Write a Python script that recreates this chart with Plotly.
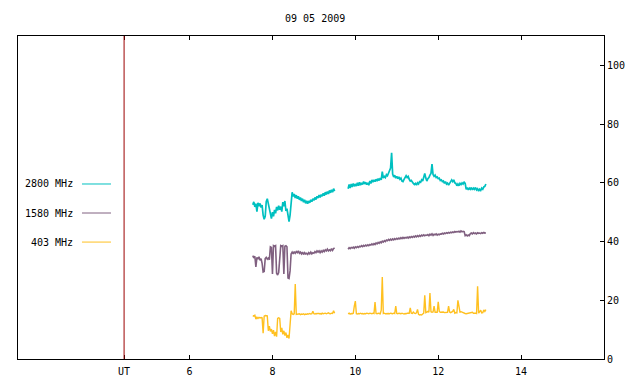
import plotly.graph_objects as go

# ---------------- data ----------------
title_text = "09 05 2009"
ut_marker = 4.42
x_tick_vals = [ut_marker, 6, 8, 10, 12, 14]
x_tick_text = ["UT", "6", "8", "10", "12", "14"]
y_tick_vals = [0, 20, 40, 60, 80, 100]

series_names = ["2800 MHz", "1580 MHz", "403 MHz"]
series_colors = ["#00c0c0", "#806080", "#ffc020"]
series_widths = [1.7, 1.6, 1.4]

step_h = 0.025
seg1_start = 7.525
seg2_start = 9.825

f2800_seg1 = [52.5, 53.5, 51.8, 52.9, 50.2, 53.2, 52.0, 53.0, 51.6, 52.4,
              49.0, 47.6, 48.6, 53.6, 54.6, 53.0, 52.0, 49.2, 47.8, 50.0,
              48.6, 50.8, 49.6, 51.8, 50.6, 52.2, 50.8, 51.9, 50.2, 53.4,
              52.0, 53.8, 50.4, 51.2, 48.6, 46.8, 49.0, 54.2, 56.8, 55.4,
              56.2, 54.8, 55.8, 54.6, 55.4, 54.2, 55.0, 53.8, 54.6, 53.4,
              54.2, 53.0, 53.9, 52.9, 53.8, 53.2, 54.2, 53.6, 54.6, 54.0,
              55.0, 54.3, 55.4, 54.8, 55.8, 55.0, 56.0, 55.4, 56.4, 55.6,
              56.8, 56.0, 57.0, 56.2, 57.4, 56.6, 57.6, 56.8, 58.0, 57.2]
f2800_seg2 = [58.0, 59.4, 58.2, 59.6, 58.6, 59.8, 58.8, 59.6, 58.9, 60.0,
              59.0, 60.2, 59.2, 60.0, 59.4, 60.4, 59.6, 60.2, 59.4, 60.0,
              59.2, 60.6, 59.8, 61.0, 60.2, 61.0, 60.4, 61.2, 60.6, 61.4,
              60.8, 61.6, 61.0, 63.8, 61.6, 62.2, 61.8, 62.8, 62.4, 63.4,
              64.2, 65.0, 70.2, 63.0, 62.0, 62.6, 61.6, 62.2, 61.4, 62.0,
              61.2, 61.6, 60.6, 60.4, 61.2, 61.8, 62.4, 61.8, 62.2, 61.2,
              60.6, 60.8, 60.0, 59.8, 59.4, 59.8, 59.2, 60.0, 59.6, 60.4,
              60.2, 61.0, 60.6, 61.6, 63.2, 61.6, 60.6, 61.4, 61.8, 62.6,
              63.2, 66.4, 62.8, 62.2, 62.6, 61.8, 62.0, 61.4, 61.6, 60.8,
              61.0, 60.4, 60.6, 59.8, 60.4, 59.6, 59.9, 59.2, 59.8, 60.4,
              61.0, 60.4, 61.0, 60.0, 59.8, 59.0, 59.6, 59.0, 59.8, 59.4,
              60.0, 59.6, 60.2, 59.8, 57.8, 58.4, 57.6, 58.2, 57.8, 58.4,
              57.6, 58.2, 57.8, 58.4, 57.6, 58.0, 57.2, 57.8, 57.4, 58.2,
              57.8, 58.6, 58.8, 59.6]

f1580_seg1 = [35.2, 34.4, 35.0, 31.4, 34.6, 34.0, 34.8, 33.6, 34.2, 32.6,
              29.6, 29.8, 34.2, 34.6, 34.0, 34.4, 33.8, 38.2, 38.0, 29.0,
              38.6, 38.4, 38.6, 29.2, 28.6, 29.4, 34.0, 38.6, 38.4, 38.6,
              29.0, 38.4, 38.6, 38.2, 27.6, 27.4, 30.0, 35.8, 36.4, 35.8,
              36.6, 36.0, 36.6, 36.2, 36.8, 36.0, 36.4, 35.8, 36.4, 35.6,
              36.2, 35.8, 36.0, 35.6, 36.2, 35.8, 36.4, 35.8, 36.2, 36.0,
              36.6, 36.2, 36.8, 36.4, 36.8, 36.2, 36.8, 36.4, 37.0, 36.6,
              37.2, 36.8, 37.4, 36.8, 37.2, 36.9, 37.6, 37.0, 37.6, 37.8]
f1580_seg2 = [37.4, 37.9, 37.6, 38.0, 37.8, 38.1, 37.7, 38.2, 37.9, 38.3, 38.0, 38.4,
              38.2, 38.6, 38.3, 38.7, 38.4, 38.8, 38.5, 38.9, 38.6, 39.0, 38.8, 39.2, 38.9,
              39.3, 39.0, 39.5, 39.2, 39.7, 39.4, 39.9, 39.6, 40.1, 39.8, 40.3, 40.0, 40.5, 40.3,
              40.7, 40.4, 40.8, 40.5, 40.9, 40.6, 41.0, 40.7, 41.1, 40.8, 41.2, 40.9, 41.3, 41.0,
              41.4, 41.1, 41.4, 41.2,
              41.5, 41.2, 41.6, 41.3, 41.7, 41.4, 41.8, 41.5, 41.9, 41.6, 42.0, 41.7, 42.1, 41.8,
              42.2, 41.9, 42.3, 42.0, 42.2,
              42.1, 42.4, 42.0, 42.5, 42.2, 42.6, 42.1, 42.5, 42.3, 42.6, 42.2, 42.5, 42.3, 42.6,
              42.5, 42.8, 42.6, 42.9, 42.7, 43.0, 42.8, 43.1, 42.9, 43.2, 43.0, 43.3, 43.1, 43.4,
              43.2, 43.4,
              43.3, 43.5, 43.2, 43.6, 43.3, 43.5, 43.4,
              42.0, 42.3, 41.9, 42.2, 42.0,
              42.7, 42.9, 42.6, 43.0, 42.7, 42.9, 42.6, 43.0, 42.8, 42.9, 42.7, 43.0, 42.8, 43.1,
              42.9, 43.0]

f403_seg1 = [14.8, 14.6, 14.9, 13.6, 14.2, 13.8, 14.2, 14.0, 14.1, 14.0,
             8.8, 14.6, 14.8, 14.8, 14.7, 9.6, 11.2, 9.4, 10.2, 8.6,
             9.8, 7.8, 9.2, 7.6, 13.8, 14.0, 13.8, 9.2, 10.6, 8.4,
             9.6, 8.0, 9.0, 7.2, 8.2, 7.0, 12.0, 16.4, 15.4, 15.2,
             15.4, 25.5, 15.2, 15.3,
             15.2, 15.4, 15.1, 15.3, 15.2, 15.4, 15.1, 15.3, 15.2, 15.4,
             15.3, 15.5, 15.3, 15.4, 16.3, 15.4, 15.3, 15.5, 15.4, 15.6,
             15.4, 15.5, 15.3, 15.6, 15.4, 15.5, 15.6, 15.4, 15.5, 15.7,
             15.5, 15.4, 15.6, 15.5, 16.4, 15.6]
f403_seg2 = [15.4, 15.6, 15.3, 15.5, 15.4, 15.6, 18.0, 19.7,
             15.4, 15.3, 15.5, 15.4, 15.6, 15.4, 15.5, 15.3, 15.5, 15.4, 15.6, 15.5,
             15.4, 15.6, 15.5, 15.4, 15.6, 15.5, 19.4,
             15.5, 15.4, 15.6, 15.5, 15.4, 16.6, 27.9,
             15.5, 15.6, 15.4, 15.5, 15.6, 15.5, 15.4, 15.6, 15.5, 15.4, 15.6, 15.5, 18.0,
             15.5, 15.4, 15.6, 15.5, 15.4, 15.6, 15.5, 15.3, 15.5, 15.4, 15.6, 15.5, 15.6,
             17.4, 15.6, 15.5, 16.0, 15.6, 15.5, 15.7, 16.9,
             15.2, 15.0, 15.1, 15.0, 15.3, 15.6, 21.7,
             15.8, 16.0, 16.2, 15.9, 22.5, 16.1, 15.9, 16.0, 18.0,
             15.9, 16.0, 15.9, 19.5,
             16.2, 15.9, 16.0, 15.9, 16.0, 15.8, 15.9, 16.0, 15.9, 18.0,
             16.0, 15.8, 15.9, 16.2, 16.9, 15.6, 15.8, 15.7, 20.0, 17.1,
             16.0, 16.1, 15.9, 15.8, 15.6, 15.5, 15.4, 15.5, 15.6, 15.7, 15.9, 15.8,
             15.9, 15.6, 15.7, 15.6, 15.5, 24.8,
             15.6, 16.0, 16.6, 15.7, 15.8, 16.7, 16.2, 16.8]

series_values = [(f2800_seg1, f2800_seg2), (f1580_seg1, f1580_seg2), (f403_seg1, f403_seg2)]


def times(start, n):
    return [round(start + step_h * k, 4) for k in range(n)]


FONT = "DejaVu Sans Mono"
fig = go.Figure()

for name, color, w, (s1, s2) in zip(series_names, series_colors, series_widths, series_values):
    xs = times(seg1_start, len(s1)) + [None] + times(seg2_start, len(s2))
    ys = list(s1) + [None] + list(s2)
    fig.add_trace(go.Scatter(x=xs, y=ys, mode="lines", name=name,
                             line=dict(color=color, width=w),
                             connectgaps=False, showlegend=False))

# UT marker line
fig.add_shape(type="line", xref="x", yref="paper", x0=ut_marker, x1=ut_marker,
              y0=0, y1=1, line=dict(color="#9b0000", width=1), layer="above")

# gnuplot-style key at left
key_y = [0.5418, 0.452, 0.362]
for name, color, ky in zip(series_names, series_colors, key_y):
    fig.add_annotation(xref="paper", yref="paper", x=0.0973, y=ky, text=name,
                       showarrow=False, xanchor="right", yanchor="middle",
                       font=dict(family=FONT, size=10, color="black"))
    fig.add_shape(type="line", xref="paper", yref="paper", x0=0.1092, x1=0.1587,
                  y0=ky, y1=ky, line=dict(color=color, width=1))

# page has an 8px body margin; figure sized so it ends at the window edge
fig.update_layout(
    width=632, height=376,
    margin=dict(l=10, r=36, t=28, b=25, autoexpand=False),
    paper_bgcolor="white", plot_bgcolor="white",
    title=dict(text=title_text, x=0.486, xanchor="center", y=0.973, yanchor="middle",
               font=dict(family=FONT, size=10, color="black")),
    font=dict(family=FONT, size=10, color="black"),
    showlegend=False,
)
fig.update_xaxes(range=[1.86, 16.0], tickvals=x_tick_vals, ticktext=x_tick_text,
                 ticks="inside", ticklen=4, tickcolor="black", showgrid=False,
                 zeroline=False, showline=True, linecolor="black", linewidth=1,
                 mirror="ticks", automargin=False, ticklabelstandoff=3,
                 tickfont=dict(family=FONT, size=10))
fig.update_yaxes(range=[0, 110], tickvals=y_tick_vals, side="right",
                 ticks="inside", ticklen=4, tickcolor="black", showgrid=False,
                 zeroline=False, showline=True, linecolor="black", linewidth=1,
                 mirror=True, automargin=False,
                 tickfont=dict(family=FONT, size=10))

fig.write_html("out.html")
